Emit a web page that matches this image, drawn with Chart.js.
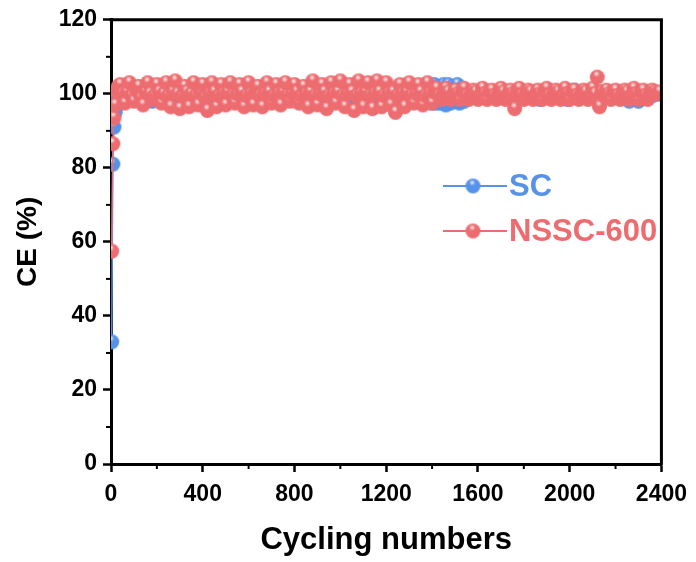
<!DOCTYPE html>
<html><head><meta charset="utf-8">
<script src="https://cdn.jsdelivr.net/npm/chart.js@4/dist/chart.umd.min.js"></script>
<style>html,body{margin:0;padding:0;background:#fff}#wrap{width:696px;height:562px}</style>
</head><body><div id="wrap"><canvas id="c" width="696" height="562"></canvas></div>
<script>
const cycles = [3, 8, 13, 18, 25, 32,
  40, 50, 60, 70, 80, 90, 100, 110, 120, 130, 140, 150, 160, 170, 180, 190, 200, 210, 220, 230,
  240, 250, 260, 270, 280, 290, 300, 310, 320, 330, 340, 350, 360, 370, 380, 390, 400, 410, 420, 430,
  440, 450, 460, 470, 480, 490, 500, 510, 520, 530, 540, 550, 560, 570, 580, 590, 600, 610, 620, 630,
  640, 650, 660, 670, 680, 690, 700, 710, 720, 730, 740, 750, 760, 770, 780, 790, 800, 810, 820, 830,
  840, 850, 860, 870, 880, 890, 900, 910, 920, 930, 940, 950, 960, 970, 980, 990, 1000, 1010, 1020, 1030,
  1040, 1050, 1060, 1070, 1080, 1090, 1100, 1110, 1120, 1130, 1140, 1150, 1160, 1170, 1180, 1190, 1200, 1210, 1220, 1230,
  1240, 1250, 1260, 1270, 1280, 1290, 1300, 1310, 1320, 1330, 1340, 1350, 1360, 1370, 1380, 1390, 1400, 1410, 1420, 1430,
  1440, 1450, 1460, 1470, 1480, 1490, 1500, 1510, 1520, 1530, 1540, 1550, 1560, 1570, 1580, 1590, 1600, 1610, 1620, 1630,
  1640, 1650, 1660, 1670, 1680, 1690, 1700, 1710, 1720, 1730, 1740, 1750, 1760, 1770, 1780, 1790, 1800, 1810, 1820, 1830,
  1840, 1850, 1860, 1870, 1880, 1890, 1900, 1910, 1920, 1930, 1940, 1950, 1960, 1970, 1980, 1990, 2000, 2010, 2020, 2030,
  2040, 2050, 2060, 2070, 2080, 2090, 2100, 2110, 2120, 2130, 2140, 2150, 2160, 2170, 2180, 2190, 2200, 2210, 2220, 2230,
  2240, 2250, 2260, 2270, 2280, 2290, 2300, 2310, 2320, 2330, 2340, 2350, 2360, 2370, 2380,
  2392];
const scValues = [33, 81, 91, 95, 97, 99,
  101, 99.5, 98, 100, 101.5, 100, 98.5, 99.5, 101, 100, 98.5, 100.5, 101, 99.5, 98, 100, 101.5, 100.5, 98.5, 99.5,
  101, 100, 98.5, 100.5, 101.5, 99.5, 98, 100, 101, 100.5, 98.5, 99.5, 101, 100, 98.5, 100.5, 101.5, 99.5, 98, 100,
  101, 99.5, 98, 100, 101.5, 100, 98.5, 99.5, 101, 100, 98.5, 100.5, 101, 99.5, 98, 100, 101.5, 100.5, 98.5, 99.5,
  101, 100, 98.5, 100.5, 101.5, 99.5, 98, 100, 101, 100.5, 98.5, 99.5, 101, 100, 98.5, 100.5, 101.5, 99.5, 98, 100,
  101, 99.5, 98, 100, 101.5, 100, 98.5, 99.5, 101, 100, 98.5, 100.5, 101, 99.5, 98, 100, 101.5, 100.5, 98.5, 99.5,
  101, 100, 98.5, 100.5, 101.5, 99.5, 98, 100, 101, 100.5, 98.5, 99.5, 101, 100, 98.5, 100.5, 101.5, 99.5, 98, 100,
  101, 99.5, 98.5, 100, 101.5, 100.5, 98.5, 99.5, 101, 100, 98.5, 100.5, 101, 99.5, 98, 100, 97.5, 102.5, 97.5, 102,
  97.5, 102.5, 97, 102.5, 97.5, 102, 98, 102.5, 97.5, 101.5, 98, 100.5, 99, 100, 99.5, 100.5, 99, 100, 99.5, 100.5,
  99, 100, 99.5, 100.5, 99, 100, 99.5, 100.5, 99, 100, 99.5, 100.5, 99, 100, 99.5, 100.5, 99, 100, 99.5, 100.5,
  99, 100, 100.5, 98.5, 100, 99.5, 101, 99, 100, 99.5, 100.5, 99, 100, 99.5, 100.5, 98.5, 100, 99.5, 101, 99,
  100, 99.5, 100.5, 99, 100, 99.5, 100.5, 99, 100, 99.5, 100.5, 99, 100, 99.5, 100.5, 99, 100, 99.5, 100.5, 99,
  100, 99, 98, 99.5, 100.5, 99, 98, 100, 99.5, 100.5, 99, 100, 99.5, 100, 100,
  100];
const nsscValues = [57.5, 86.5, 93.5, 97, 100.5, 102,
  102.5, 100, 97.5, 100.5, 103, 99.5, 98, 101, 102, 99, 97, 100.5, 103, 100, 98.5, 99.5, 102.5, 100.5, 97.5, 100,
  103, 99.5, 96.5, 100.5, 103.5, 100, 96, 99.5, 102, 100.5, 96.5, 100, 103, 99.5, 97, 100.5, 102.5, 99, 95.5, 100,
  103, 100.5, 96.5, 99.5, 102.5, 100, 97, 100.5, 103, 99.5, 97.5, 100, 102.5, 100.5, 96.5, 99.5, 103, 100, 97, 100.5,
  102, 99.5, 96.5, 100, 103, 100.5, 97.5, 99.5, 102.5, 100, 97, 100.5, 103, 99.5, 98, 100, 102.5, 100.5, 97.5, 99.5,
  102, 100, 96.5, 100.5, 103.5, 99.5, 97, 100, 102.5, 100.5, 96, 99.5, 103, 100, 97.5, 100.5, 103.5, 99.5, 96.5, 100,
  102.5, 100.5, 95.5, 99.5, 103.5, 100, 96.5, 100.5, 103, 99.5, 96, 100, 103.5, 100.5, 96.5, 99.5, 103, 100, 97, 100.5,
  95, 99.5, 102.5, 100, 96.5, 100.5, 103, 99.5, 97.5, 100, 102.5, 100.5, 97, 99.5, 103, 100, 97.5, 100.5, 101.5, 99.5,
  98.5, 100, 101.5, 100.5, 98.5, 99.5, 101, 100, 98.5, 100.5, 101.5, 99.5, 98.5, 100, 101, 100.5, 98.5, 99.5, 101.5, 100,
  98.5, 100.5, 101, 99.5, 98.5, 100, 101.5, 100.5, 98.5, 99.5, 101, 100, 96, 100.5, 101.5, 99.5, 98.5, 100, 101, 100.5,
  98.5, 99.5, 101, 100, 98.5, 100.5, 101.5, 99.5, 98.5, 100, 101, 100.5, 98.5, 99.5, 101.5, 100, 98.5, 100.5, 101, 99.5,
  98.5, 100, 101, 100.5, 98.5, 99.5, 101.5, 100, 104.5, 96.5, 100.5, 99.5, 101, 100, 98.5, 100.5, 101, 99.5, 98.5, 100,
  101, 100.5, 98.5, 99.5, 101.5, 100, 98.5, 100.5, 101, 99.5, 98.5, 100, 101, 100.5, 100,
  100.5];
const seriesNames = ['SC', 'NSSC-600'];
const xMajorTicks = [0, 400, 800, 1200, 1600, 2000, 2400];
const xMinorTicks = [200, 600, 1000, 1400, 1800, 2200];
const yMajorTicks = [0, 20, 40, 60, 80, 100, 120];
const yMinorTicks = [10, 30, 50, 70, 90, 110];
const xTitle = 'Cycling numbers';
const yTitle = 'CE (%)';

const FONT = "'Liberation Sans', Arial, sans-serif";
const BLUE = 'rgb(86,146,232)';
const RED = 'rgb(237,108,112)';

function sphere(color, r) {
  const s = Math.ceil(2 * r + 2);
  const cv = document.createElement('canvas');
  cv.width = s; cv.height = s;
  const g = cv.getContext('2d');
  const cx = s / 2, cy = s / 2;
  g.fillStyle = color;
  g.beginPath(); g.arc(cx, cy, r, 0, Math.PI * 2); g.fill();
  const hx = cx - r * 0.1, hy = cy - r * 0.45;
  const grad = g.createRadialGradient(hx, hy, 0, hx, hy, r * 0.45);
  grad.addColorStop(0, 'rgba(255,255,255,0.95)');
  grad.addColorStop(0.5, 'rgba(255,255,255,0.4)');
  grad.addColorStop(1, 'rgba(255,255,255,0)');
  g.fillStyle = grad;
  g.beginPath(); g.arc(cx, cy, r, 0, Math.PI * 2); g.fill();
  return cv;
}
const blueSphere = sphere(BLUE, 7.5);
const redSphere = sphere(RED, 7.5);

const toXY = (vals) => vals.map((v, i) => ({x: cycles[i], y: v}));

const framePlugin = {
  id: 'frame',
  afterDraw(chart) {
    const {ctx, chartArea: a, scales} = chart;
    ctx.save();
    ctx.strokeStyle = '#000';
    ctx.lineWidth = 3;
    ctx.beginPath();
    ctx.moveTo(a.left - 1.5, a.top);
    ctx.lineTo(a.right, a.top);
    ctx.lineTo(a.right, a.bottom + 1.5);
    ctx.stroke();
    ctx.lineWidth = 2;
    yMinorTicks.forEach(v => {
      const y = scales.y.getPixelForValue(v);
      ctx.beginPath(); ctx.moveTo(a.left - 5, y); ctx.lineTo(a.left, y); ctx.stroke();
    });
    xMinorTicks.forEach(v => {
      const x = scales.x.getPixelForValue(v);
      ctx.beginPath(); ctx.moveTo(x, a.bottom); ctx.lineTo(x, a.bottom + 5); ctx.stroke();
    });
    const items = [[seriesNames[0], BLUE, blueSphere, 186], [seriesNames[1], RED, redSphere, 231]];
    items.forEach(([name, col, img, y]) => {
      ctx.strokeStyle = col; ctx.lineWidth = 2;
      ctx.beginPath(); ctx.moveTo(443, y); ctx.lineTo(507, y); ctx.stroke();
      ctx.drawImage(img, 473 - img.width / 2, y - img.height / 2);
      ctx.fillStyle = col;
      ctx.font = 'bold 31px ' + FONT;
      ctx.textBaseline = 'middle';
      ctx.textAlign = 'left';
      ctx.fillText(name, 509, y + 1);
    });
    ctx.restore();
  }
};

new Chart(document.getElementById('c'), {
  type: 'line',
  data: {
    datasets: [
      {label: seriesNames[0], data: toXY(scValues), borderColor: BLUE, borderWidth: 1.5,
       pointStyle: blueSphere, pointRadius: 7.5, order: 1, tension: 0},
      {label: seriesNames[1], data: toXY(nsscValues), borderColor: RED, borderWidth: 1.5,
       pointStyle: redSphere, pointRadius: 7.5, order: 0, tension: 0}
    ]
  },
  options: {
    responsive: false,
    animation: false,
    devicePixelRatio: 1,
    layout: {padding: {left: 0, right: 34, top: 19, bottom: 0}},
    plugins: {legend: {display: false}, tooltip: {enabled: false}},
    scales: {
      x: {
        type: 'linear', min: 0, max: 2400,
        afterBuildTicks: s => { s.ticks = xMajorTicks.map(v => ({value: v})); },
        afterFit: s => { s.height = 98; },
        grid: {drawOnChartArea: false, tickLength: 8, tickWidth: 2.5, tickColor: '#000'},
        border: {display: true, color: '#000', width: 3},
        ticks: {color: '#000', font: {family: FONT, size: 23, weight: 'bold'}, padding: 9, maxRotation: 0,
                callback: v => String(v)},
        title: {display: true, text: xTitle, color: '#000', font: {family: FONT, size: 31, weight: 'bold'}, padding: {top: 0, bottom: 3}}
      },
      y: {
        type: 'linear', min: 0, max: 120,
        afterBuildTicks: s => { s.ticks = yMajorTicks.map(v => ({value: v})); },
        afterFit: s => { s.width = 111; },
        grid: {drawOnChartArea: false, tickLength: 8, tickWidth: 2.5, tickColor: '#000'},
        border: {display: true, color: '#000', width: 3},
        ticks: {color: '#000', font: {family: FONT, size: 23, weight: 'bold'}, padding: 6, callback: v => String(v)},
        title: {display: true, text: yTitle, color: '#000', font: {family: FONT, size: 28, weight: 'bold'}, padding: {top: 11, bottom: 0}}
      }
    }
  },
  plugins: [framePlugin]
});
</script>
</body></html>
